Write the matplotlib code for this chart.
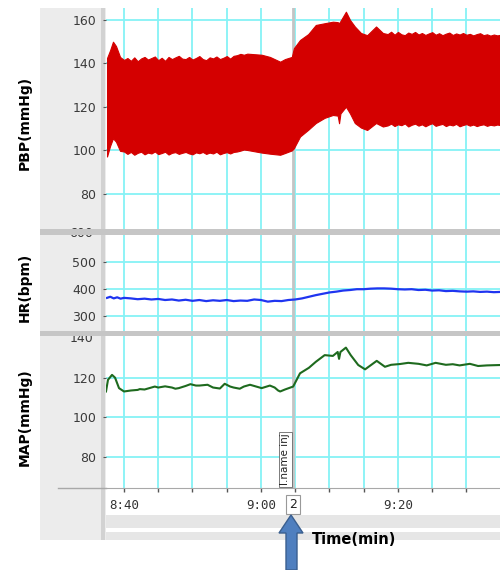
import numpy as np
import matplotlib.pyplot as plt
from matplotlib.patches import Rectangle, Polygon

# time axis: minutes after 8:40
xtick_pos = [0, 20, 40]
xtick_labels = ["8:40", "9:00", "9:20"]
event_time = 24.7

# pulsatile blood pressure envelope (systolic / diastolic), read in pieces
pbp_t_start = [-2.48, -2.04, -1.61, -1.17, -0.58]
pbp_high_start = [142.5, 146, 150, 148, 143]
pbp_low_start = [97.2, 102, 105.6, 104, 99.8]

pbp_t_base = list(np.arange(0, 18.01, 0.5))
pbp_high_base = [141.6, 142.5, 141.2, 142.8, 141, 142.3, 143, 141.8, 142.5, 143.2, 141.5,
                 142.6, 141.2, 143, 142, 142.8, 143.5, 142.2, 142, 143, 141.8, 142.5,
                 143.4, 142, 141.5, 142.8, 142.3, 143.2, 142, 142.6, 143.4, 142.2, 143.5,
                 143.8, 144.4, 144, 144.5]
pbp_low_base = [99.5, 98.4, 99.3, 98, 98.9, 99.4, 98.2, 99, 98.6, 99.5, 98.3, 98.8, 99.4,
                98.1, 98.9, 99.2, 98.4, 98.9, 99.3, 98.6, 98.2, 99.1, 98.7, 99.3, 98.4, 99,
                98.6, 99.4, 98.2, 98.8, 99.2, 98.6, 99.3, 99.5, 99.9, 100.4, 100.2]

pbp_t_inj = [20.1, 21.3, 22.8, 23.5, 24.5, 24.8, 25.7, 26.9, 28.0, 29.3, 30.5, 31.2, 31.4,
             31.6, 32.4, 33.0, 33.7, 34.6, 35.5, 36.8, 37.8]
pbp_high_inj = [144, 143, 140.8, 142, 143, 147, 150.8, 153.5, 157.7, 158.5, 159.2, 159,
                158.5, 159.5, 163.8, 160, 157, 154, 153, 157, 154]
pbp_low_inj = [99, 98.5, 98, 98.8, 100, 101, 106.4, 109.5, 112.6, 115, 116.3, 116, 112.5,
               117, 120.1, 117, 112.6, 110.5, 109.4, 112.6, 111]

pbp_t_end = list(np.arange(38.5, 55.01, 0.5))
pbp_high_end = [153.5, 154.6, 153.2, 154.5, 153.4, 153, 154.2, 153.6, 154.5, 153.3, 154,
                153.1, 153.8, 154.4, 153.2, 153.9, 153, 153.7, 154.2, 153.1, 153.8, 153.3,
                154, 153.2, 153.6, 152.9, 153.5, 153.9, 153, 153.4, 152.8, 153.3, 152.9,
                153.2]
pbp_low_end = [111.5, 112.3, 111.2, 112, 111.6, 112.4, 111, 111.8, 112.3, 111.4, 112,
               111.1, 111.9, 112.5, 111.3, 111.8, 112.2, 111.2, 111.9, 111.5, 112.2, 111.1,
               111.7, 112.1, 111.4, 111.9, 111.2, 111.7, 112, 111.3, 111.8, 111.5, 111.9,
               111.6]

# heart rate
hr_t = [-2.48, -2, -1.5, -1, -0.5, 0, 1, 2, 3, 4, 5, 6, 7, 8, 9, 10, 11, 12, 13, 14, 15,
        16, 17, 18, 19, 20, 21, 22, 23, 24, 25, 26, 27, 28, 29, 30, 31, 32, 33, 34, 35,
        36, 37, 38, 39, 40, 41, 42, 43, 44, 45, 46, 47, 48, 49, 50, 51, 52, 53, 54, 55]
hr = [368, 372, 366, 370, 365, 368, 366, 363, 365, 362, 364, 360, 362, 358, 361, 357,
      360, 356, 359, 357, 360, 356, 358, 357, 362, 360, 354, 357, 356, 360, 362, 366,
      372, 378, 383, 388, 391, 395, 397, 400, 400, 402, 403, 403, 402, 400, 399, 400,
      397, 398, 395, 396, 393, 394, 392, 391, 392, 390, 391, 389, 390]

# mean arterial pressure
map_t = [-2.63, -2.34, -1.75, -1.31, -0.73, 0, 1, 2, 2.3, 3, 4, 4.5, 5, 6, 7, 7.5, 8, 9,
         9.7, 10.5, 11, 12.2, 13, 14, 14.7, 15.5, 16, 16.9, 17.5, 18.4, 19.3, 20.1, 21.3,
         22, 22.5, 22.8, 23.5, 24.7, 25.7, 27, 28, 29.3, 30.5, 31.2, 31.4, 31.6, 32.4,
         33.1, 34.2, 35.2, 36.9, 38.1, 39, 40.3, 41.5, 43, 44.2, 45.5, 47, 48, 49, 50.5,
         51.7, 53, 55]
map_v = [113, 118.9, 121.4, 120, 114.7, 113, 113.5, 113.8, 114.2, 114, 115, 115.5, 115,
         115.6, 115, 114.4, 114.7, 115.8, 116.7, 116, 116, 116.4, 115, 114.5, 116.9, 115.5,
         115, 114.4, 115.5, 116.4, 115.5, 114.7, 116, 115, 113.5, 113, 114, 115.5, 122.2,
         125, 128, 131.4, 131, 133, 129.5, 133, 135.2, 131.4, 126.4, 124.2, 128.5, 125.5,
         126.5, 126.9, 127.5, 127, 126.2, 127.5, 126.5, 126.8, 126.2, 127, 125.9, 126.2,
         126.4]

pbp_t = pbp_t_start + pbp_t_base + pbp_t_inj + pbp_t_end
pbp_high = pbp_high_start + pbp_high_base + pbp_high_inj + pbp_high_end
pbp_low = pbp_low_start + pbp_low_base + pbp_low_inj + pbp_low_end

pbp_ticks = [80, 100, 120, 140, 160]
hr_ticks = [300, 400, 500]
map_ticks = [80, 100, 120]

W, H = 500, 570
fig = plt.figure(figsize=(W / 100, H / 100), dpi=100)


def box(x0, y0, x1, y1):
    # pixel box (top-left origin) -> figure rect
    return [x0 / W, 1 - y1 / H, (x1 - x0) / W, (y1 - y0) / H]


def frect(x0, y0, x1, y1, color, z=1):
    r = Rectangle((x0 / W, 1 - y1 / H), (x1 - x0) / W, (y1 - y0) / H,
                  transform=fig.transFigure, facecolor=color, edgecolor='none',
                  zorder=z)
    fig.add_artist(r)


# window background
frect(40, 8, 106, 540, '#ececec', z=-2)
frect(106, 515, 500, 540, '#e6e6e6', z=-2)
frect(106, 528, 500, 532, '#ffffff', z=-1)
frect(101, 8, 105, 540, '#d2d2d2', z=-1)

grid_col = '#86f2f6'
xlim = (-2.63, 54.9)
ax1 = fig.add_axes(box(106, 8, 500, 230))
ax2 = fig.add_axes(box(106, 230, 500, 333))
ax3 = fig.add_axes(box(106, 333, 500, 488))

ax1.fill_between(pbp_t, pbp_low, pbp_high, color='#d40000', lw=0.8, zorder=3)
ax1.set_ylim(63.4, 165.5)
ax1.set_yticks(pbp_ticks)

ax2.plot(hr_t, hr, color='#1f35f0', lw=1.6, zorder=3)
ax2.set_ylim(238, 619)
ax2.set_yticks(hr_ticks)

ax3.plot(map_t, map_v, color='#1e6a1e', lw=1.5, zorder=3)
ax3.set_ylim(64.15, 142.6)
ax3.set_yticks(map_ticks)

for ax in (ax1, ax2, ax3):
    ax.set_xlim(*xlim)
    ax.set_xticks(np.arange(0, 55, 5))
    ax.grid(True, color=grid_col, lw=1.3, zorder=0)
    ax.set_axisbelow(True)
    for s in ('top', 'right', 'bottom', 'left'):
        ax.spines[s].set_visible(False)
    ax.tick_params(axis='y', length=2, width=0.8, color='#555555', pad=5,
                   labelsize=9, labelcolor='#3a3a3a')
    ax.tick_params(axis='x', length=0, labelbottom=False)
    ax.axvline(event_time, color='#c4c4c4', lw=2, zorder=2)

# bottom axis with time labels
ax3.spines['bottom'].set_visible(True)
ax3.spines['bottom'].set_color('#a8a8a8')
ax3.tick_params(axis='x', length=3, width=1, color='#555555', direction='out',
                labelbottom=True, pad=5)
ax3.set_xticklabels([xtick_labels[xtick_pos.index(int(v))] if int(v) in xtick_pos else ''
                     for v in np.arange(0, 55, 5)],
                    fontfamily='DejaVu Sans Mono', fontsize=9, color='#333333')
fig.add_artist(plt.Line2D([58 / W, 106 / W], [1 - 488 / H] * 2, color='#a8a8a8',
                          lw=1, transform=fig.transFigure))

# half-hidden top labels of the lower panels (cut by the separators)
fig.text(93 / W, 1 - 234 / H, "600", ha='right', va='center', fontsize=9,
         color='#3a3a3a', zorder=3)
fig.text(93 / W, 1 - 338 / H, "140", ha='right', va='center', fontsize=9,
         color='#3a3a3a', zorder=3)

# panel separators
frect(40, 229, 500, 234.5, '#c6c6c6', z=5)
frect(40, 331, 500, 336, '#c6c6c6', z=5)

# event annotation
ax3.text(event_time - 0.4, 65.5, "I.name inj", rotation=90, ha='right', va='bottom',
         fontsize=7.5, color='#222222',
         bbox=dict(boxstyle='square,pad=0.15', fc='white', ec='#666666', lw=0.6))
ax3.annotate("2", xy=(event_time, 0), xycoords=('data', 'axes fraction'),
             xytext=(0, -12), textcoords='offset points', ha='center', va='center',
             fontsize=9, color='#222222',
             bbox=dict(boxstyle='square,pad=0.25', fc='white', ec='#999999', lw=0.8))

# y labels
fig.text(25 / W, 1 - 123 / H, "PBP(mmHg)", rotation=90, ha='center', va='center',
         fontsize=10, fontweight='bold')
fig.text(25 / W, 1 - 287 / H, "HR(bpm)", rotation=90, ha='center', va='center',
         fontsize=10, fontweight='bold')
fig.text(25 / W, 1 - 417 / H, "MAP(mmHg)", rotation=90, ha='center', va='center',
         fontsize=10, fontweight='bold')

# arrow pointing at injection time
arrow_px = [(291, 515), (303, 533), (297, 533), (297, 570), (286, 570), (286, 533),
            (279, 533)]
fig.add_artist(Polygon([(x / W, 1 - y / H) for x, y in arrow_px], closed=True,
                       transform=fig.transFigure, facecolor='#4f7fbf',
                       edgecolor='#3a5f8f', lw=1, zorder=6))
fig.text(312 / W, 1 - 540 / H, "Time(min)", ha='left', va='center', fontsize=10.5,
         fontweight='bold')

plt.savefig('out.png', dpi=100)
